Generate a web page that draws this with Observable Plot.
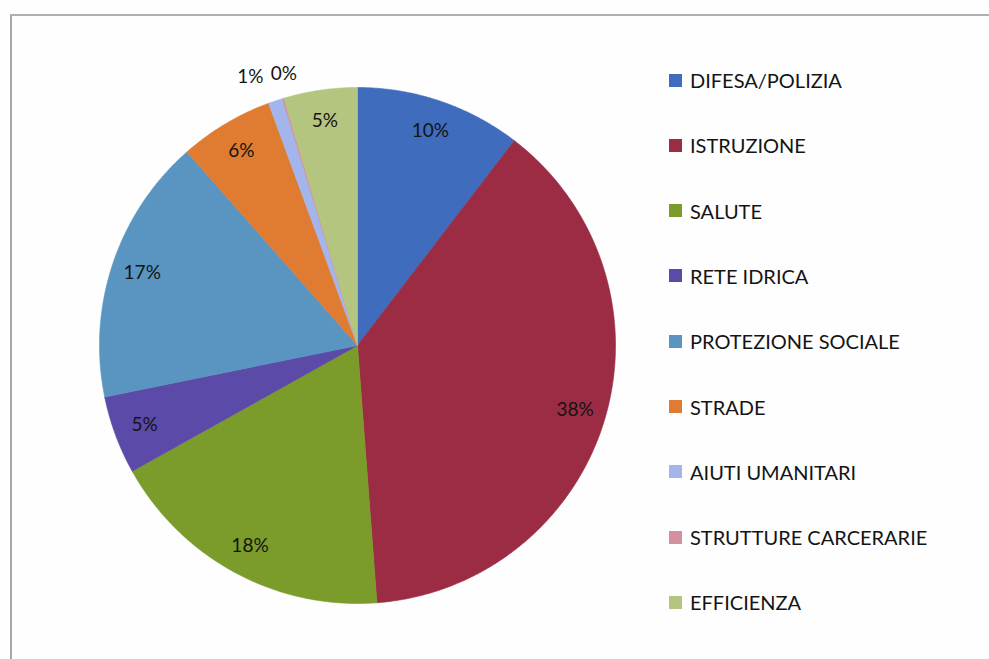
<!DOCTYPE html>
<html>
<head>
<meta charset="utf-8">
<script src="https://cdn.jsdelivr.net/npm/d3@7"></script>
<script src="https://cdn.jsdelivr.net/npm/@observablehq/plot@0.6"></script>
<style>
  html, body { margin: 0; padding: 0; background: #fefefe; }
  #wrap { position: relative; width: 989px; height: 659px; overflow: hidden; font-family: Lato, "Open Sans", sans-serif; }
  #frame { position: absolute; left: 10px; top: 14px; right: -5px; bottom: -5px; border-top: 2px solid #b0b0b0; border-left: 2px solid #a8a8a8; pointer-events: none; }
  #legend { position: absolute; left: 669px; top: 0; }
  .item { position: absolute; left: 0; display: flex; align-items: center; white-space: nowrap; transform: translateY(-50%); }
  .sw { width: 13px; height: 13px; margin-right: 8px; }
  .lab { font-size: 20px; color: #141414; letter-spacing: 0px; }
</style>
</head>
<body>
<div id="wrap">
  <div id="chart"></div>
  <div id="frame"></div>
  <div id="legend"></div>
</div>
<script>
const categories = ["DIFESA/POLIZIA", "ISTRUZIONE", "SALUTE", "RETE IDRICA", "PROTEZIONE SOCIALE", "STRADE", "AIUTI UMANITARI", "STRUTTURE CARCERARIE", "EFFICIENZA"];
const values = [10.4, 38.4, 18.1, 4.9, 16.7, 5.9, 0.9, 0.1, 4.6];
const colors = ["#3f6cbc", "#9b2c44", "#7b9c2a", "#5b4aa8", "#5a95c2", "#e07b32", "#a3b5ea", "#d4909f", "#b4c57f"];

// build slice outlines from the values (angles measured clockwise from top)
const total = d3.sum(values);
const slices = [];
const labels = [];
let acc = 0;
values.forEach((v, i) => {
  const a0 = acc / total * 2 * Math.PI;
  acc += v;
  const a1 = acc / total * 2 * Math.PI;
  const n = Math.max(2, Math.ceil((a1 - a0) / (Math.PI / 360)));
  slices.push({cat: categories[i], x: 0, y: 0, k: 0});
  for (let j = 0; j <= n; j++) {
    const a = a0 + (a1 - a0) * j / n;
    slices.push({cat: categories[i], x: Math.sin(a), y: Math.cos(a), k: j + 1});
  }
  slices.push({cat: categories[i], x: 0, y: 0, k: n + 2});
  const am = (a0 + a1) / 2;
  const small = v < 2;
  const r = small ? 1.1 : 0.88;
  labels.push({cat: categories[i], text: Math.round(v) + "%", x: r * Math.sin(am), y: r * Math.cos(am), small});
});

const chart = Plot.plot({
  width: 989,
  height: 659,
  marginLeft: 99,
  marginRight: 374,
  marginTop: 87,
  marginBottom: 56,
  x: {domain: [-1, 1], axis: null},
  y: {domain: [-1, 1], axis: null},
  color: {domain: categories, range: colors},
  style: {background: "transparent", fontFamily: "Lato, 'Open Sans', sans-serif"},
  marks: [
    Plot.line(slices, {x: "x", y: "y", z: "cat", fill: "cat", stroke: "cat", strokeWidth: 0.6, curve: "linear"}),
    Plot.text(labels.filter(d => !d.small), {x: "x", y: "y", text: "text", fontSize: 19, fill: "#141414"}),
    Plot.text(labels.filter(d => d.cat === "AIUTI UMANITARI"), {x: "x", y: "y", text: "text", fontSize: 19, fill: "#141414", dx: -17}),
    Plot.text(labels.filter(d => d.cat === "STRUTTURE CARCERARIE"), {x: "x", y: "y", text: "text", fontSize: 19, fill: "#141414", dx: 8})
  ]
});
document.getElementById("chart").appendChild(chart);

// legend
const leg = document.getElementById("legend");
categories.forEach((c, i) => {
  const item = document.createElement("div");
  item.className = "item";
  item.style.top = (80 + i * 65.3) + "px";
  const sw = document.createElement("div");
  sw.className = "sw";
  sw.style.background = chart.scale("color").apply(c);
  const lab = document.createElement("span");
  lab.className = "lab";
  lab.textContent = c;
  item.appendChild(sw);
  item.appendChild(lab);
  leg.appendChild(item);
});
</script>
</body>
</html>
